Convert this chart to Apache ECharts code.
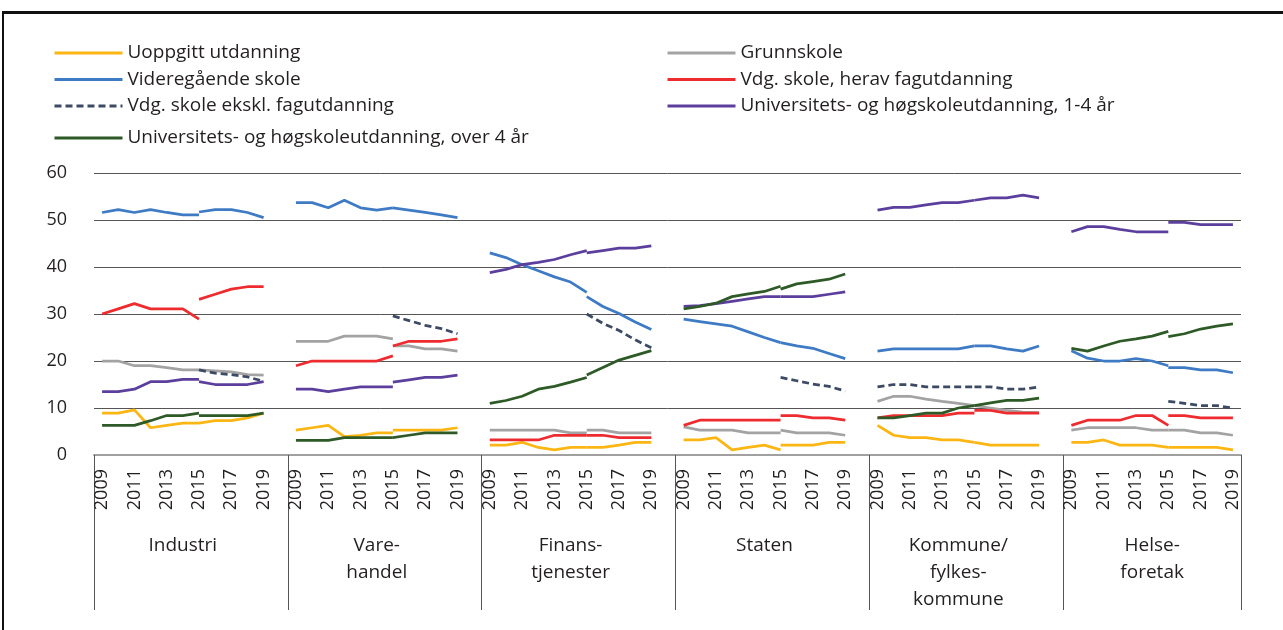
<!DOCTYPE html>
<html>
<head>
<meta charset="utf-8">
<script src="https://cdn.jsdelivr.net/npm/echarts@6/dist/echarts.min.js"></script>
<style>
  html, body { margin: 0; padding: 0; background: #fff; }
  #chart { width: 1283px; height: 630px; }
  .frame {
    position: absolute; left: 2px; top: 11px; right: 0; bottom: 0;
    border-top: 3px solid #111; border-left: 2px solid #111;
    pointer-events: none;
  }
</style>
</head>
<body>
<div id="chart"></div>
<div class="frame"></div>
<script>
// sektorer og år
const sectors = ['Industri', 'Vare-\nhandel', 'Finans-\ntjenester', 'Staten', 'Kommune/\nfylkes-\nkommune', 'Helse-\nforetak'];
const years = ['2009', '2010', '2011', '2012', '2013', '2014', '2015', '2016', '2017', '2018', '2019'];
const yTicks = [0, 10, 20, 30, 40, 50, 60];

// 2009-2015 (gammel serie) og 2015-2019 (ny serie), en rad per sektor
const uoppgittOld = [
  [8.9, 8.9, 9.6, 5.8, 6.3, 6.8, 6.8],
  [5.3, 5.8, 6.3, 3.9, 4.2, 4.7, 4.7],
  [2.1, 2.1, 2.7, 1.6, 1.1, 1.6, 1.6],
  [3.2, 3.2, 3.7, 1.1, 1.6, 2.1, 1.1],
  [6.3, 4.2, 3.7, 3.7, 3.2, 3.2, 2.7],
  [2.7, 2.7, 3.2, 2.1, 2.1, 2.1, 1.6]
];
const uoppgittNew = [
  [6.8, 7.3, 7.3, 7.9, 8.9],
  [5.3, 5.3, 5.3, 5.3, 5.8],
  [1.6, 1.6, 2.1, 2.7, 2.7],
  [2.1, 2.1, 2.1, 2.7, 2.7],
  [2.7, 2.1, 2.1, 2.1, 2.1],
  [1.6, 1.6, 1.6, 1.6, 1.1]
];
const grunnskoleOld = [
  [20.0, 20.0, 19.0, 19.0, 18.6, 18.1, 18.1],
  [24.2, 24.2, 24.2, 25.3, 25.3, 25.3, 24.7],
  [5.3, 5.3, 5.3, 5.3, 5.3, 4.7, 4.7],
  [6.0, 5.3, 5.3, 5.3, 4.7, 4.7, 4.7],
  [11.4, 12.5, 12.5, 11.9, 11.4, 11.0, 10.5],
  [5.3, 5.8, 5.8, 5.8, 5.8, 5.3, 5.3]
];
const grunnskoleNew = [
  [18.1, 17.9, 17.7, 17.1, 17.0],
  [23.2, 23.2, 22.6, 22.6, 22.1],
  [5.3, 5.3, 4.7, 4.7, 4.7],
  [5.3, 4.7, 4.7, 4.7, 4.2],
  [10.5, 10.0, 9.5, 9.1, 9.0],
  [5.3, 5.3, 4.7, 4.7, 4.2]
];
const vgsOld = [
  [51.6, 52.2, 51.6, 52.2, 51.6, 51.1, 51.1],
  [53.7, 53.7, 52.6, 54.2, 52.6, 52.1, 52.6],
  [43.0, 42.0, 40.5, 39.2, 37.9, 36.8, 34.6],
  [28.9, 28.4, 27.9, 27.4, 26.2, 25.0, 23.9],
  [22.1, 22.6, 22.6, 22.6, 22.6, 22.6, 23.2],
  [22.2, 20.6, 20.0, 20.0, 20.5, 20.0, 19.0]
];
const vgsNew = [
  [51.7, 52.2, 52.2, 51.6, 50.5],
  [52.6, 52.1, 51.6, 51.1, 50.5],
  [33.7, 31.6, 30.1, 28.3, 26.7],
  [23.9, 23.2, 22.7, 21.6, 20.5],
  [23.2, 23.2, 22.6, 22.1, 23.2],
  [18.6, 18.6, 18.1, 18.1, 17.5]
];
const fagOld = [
  [30.0, 31.1, 32.2, 31.1, 31.1, 31.1, 28.9],
  [19.0, 20.0, 20.0, 20.0, 20.0, 20.0, 21.1],
  [3.2, 3.2, 3.2, 3.2, 4.2, 4.2, 4.2],
  [6.3, 7.4, 7.4, 7.4, 7.4, 7.4, 7.4],
  [7.9, 8.4, 8.4, 8.4, 8.4, 8.9, 8.9],
  [6.3, 7.4, 7.4, 7.4, 8.4, 8.4, 6.3]
];
const fagNew = [
  [33.1, 34.2, 35.3, 35.8, 35.8],
  [23.2, 24.2, 24.2, 24.2, 24.7],
  [4.2, 4.2, 3.7, 3.7, 3.7],
  [8.4, 8.4, 7.9, 7.9, 7.4],
  [9.5, 9.5, 8.9, 8.9, 8.9],
  [8.4, 8.4, 7.9, 7.9, 7.9]
];
const eksklOld = [
  [],
  [],
  [],
  [],
  [14.5, 15.0, 15.0, 14.5, 14.5, 14.5, 14.5],
  []
];
const eksklNew = [
  [18.1, 17.4, 17.1, 16.6, 15.7],
  [29.6, 28.6, 27.6, 26.9, 25.8],
  [30.0, 28.0, 26.5, 24.5, 22.8],
  [16.5, 15.8, 15.1, 14.6, 13.6],
  [14.5, 14.5, 14.0, 14.0, 14.5],
  [11.4, 11.0, 10.5, 10.5, 10.0]
];
const uni14Old = [
  [13.5, 13.5, 14.0, 15.6, 15.6, 16.1, 16.1],
  [14.0, 14.0, 13.5, 14.0, 14.5, 14.5, 14.5],
  [38.8, 39.5, 40.5, 41.0, 41.6, 42.6, 43.5],
  [31.6, 31.8, 32.2, 32.7, 33.2, 33.7, 33.7],
  [52.1, 52.7, 52.7, 53.2, 53.7, 53.7, 54.2],
  [47.5, 48.6, 48.6, 48.0, 47.5, 47.5, 47.5]
];
const uni14New = [
  [15.6, 15.0, 15.0, 15.0, 15.6],
  [15.5, 16.0, 16.5, 16.5, 17.0],
  [43.0, 43.5, 44.0, 44.0, 44.5],
  [33.7, 33.7, 33.7, 34.2, 34.7],
  [54.2, 54.7, 54.7, 55.3, 54.7],
  [49.5, 49.5, 49.0, 49.0, 49.0]
];
const uni4Old = [
  [6.3, 6.3, 6.3, 7.3, 8.4, 8.4, 8.9],
  [3.1, 3.1, 3.1, 3.7, 3.7, 3.7, 3.7],
  [11.0, 11.6, 12.5, 14.0, 14.6, 15.5, 16.5],
  [31.1, 31.6, 32.3, 33.7, 34.3, 34.8, 35.9],
  [7.9, 7.9, 8.4, 8.9, 8.9, 10.0, 10.5],
  [22.7, 22.1, 23.2, 24.2, 24.7, 25.3, 26.3]
];
const uni4New = [
  [8.4, 8.4, 8.4, 8.4, 8.9],
  [3.7, 4.2, 4.7, 4.7, 4.7],
  [17.0, 18.6, 20.2, 21.2, 22.2],
  [35.3, 36.4, 36.9, 37.4, 38.5],
  [10.5, 11.1, 11.6, 11.6, 12.1],
  [25.2, 25.8, 26.8, 27.4, 27.9]
];

const names = [
  'Uoppgitt utdanning',
  'Grunnskole',
  'Videregående skole',
  'Vdg. skole, herav fagutdanning',
  'Vdg. skole ekskl. fagutdanning',
  'Universitets- og høgskoleutdanning, 1-4 år',
  'Universitets- og høgskoleutdanning, over 4 år'
];
const colors = ['#fbb614', '#a3a3a3', '#3e7bc4', '#ee2b2f', '#3c4a63', '#5c3f9c', '#2d5a26'];

const font = 'Open Sans';
const textColor = '#231f20';

// kategoriakse: 11 år per sektor + en tom kategori mellom sektorene
const perSector = years.length + 1;
const categories = [];
sectors.forEach(function (s, si) {
  years.forEach(function (y) { categories.push(si + '|' + y); });
  if (si < sectors.length - 1) categories.push(si + '|');
});

function spread(parts, offset) {
  const out = categories.map(function () { return null; });
  parts.forEach(function (vals, si) {
    vals.forEach(function (v, i) { out[si * perSector + offset + i] = v; });
  });
  return out;
}

const pairs = [
  [uoppgittOld, uoppgittNew],
  [grunnskoleOld, grunnskoleNew],
  [vgsOld, vgsNew],
  [fagOld, fagNew],
  [eksklOld, eksklNew],
  [uni14Old, uni14New],
  [uni4Old, uni4New]
];

const series = [];
pairs.forEach(function (p, k) {
  [spread(p[0], 0), spread(p[1], 6)].forEach(function (data) {
    series.push({
      type: 'line',
      name: names[k],
      data: data,
      symbol: 'circle',
      showSymbol: false,
      connectNulls: false,
      silent: true,
      color: colors[k],
      lineStyle: { width: 2.75, color: colors[k], type: k === 4 ? [7, 4] : 'solid' },
      z: 2 + k
    });
  });
});

function legend(items, left, top) {
  return {
    orient: 'vertical',
    left: left,
    top: top,
    data: items,
    itemWidth: 68,
    itemHeight: 14,
    itemGap: 6.5,
    selectedMode: false,
    itemStyle: { opacity: 0 },
    lineStyle: { width: 3 },
    textStyle: { fontFamily: font, fontSize: 19, lineHeight: 20, color: textColor }
  };
}

const mychart = echarts.init(document.getElementById('chart'));
const option = {
  animation: false,
  backgroundColor: '#fff',
  legend: [
    legend([names[0], names[2], names[4]], 48, 38),
    legend([names[6]], 48, 123),
    legend([names[1], names[3], names[5]], 661, 38)
  ],
  grid: { left: 94, right: 42, top: 173, bottom: 175 },
  xAxis: [{
    type: 'category',
    data: categories,
    boundaryGap: true,
    axisLine: { lineStyle: { color: '#a0a0a0', width: 2 } },
    axisTick: { show: false },
    axisLabel: {
      rotate: 90,
      margin: 14,
      interval: function (i, v) {
        const y = v.split('|')[1];
        return y !== '' && (+y) % 2 === 1;
      },
      formatter: function (v) { return v.split('|')[1]; },
      fontFamily: font,
      fontSize: 18,
      color: textColor
    }
  }, {
    type: 'category',
    data: categories,
    position: 'bottom',
    boundaryGap: true,
    axisLine: { show: false },
    axisTick: {
      show: true,
      length: 155,
      interval: function (i) { return i % perSector === 0; },
      lineStyle: { color: '#555', width: 1 }
    },
    axisLabel: {
      margin: 77,
      interval: function (i) { return i % perSector === 5; },
      formatter: function (v) { return sectors[+v.split('|')[0]]; },
      fontFamily: font,
      fontSize: 19,
      lineHeight: 27,
      color: textColor,
      align: 'center'
    }
  }],
  yAxis: {
    type: 'value',
    min: yTicks[0],
    max: yTicks[yTicks.length - 1],
    interval: 10,
    axisLine: { show: false },
    axisTick: { show: false },
    splitLine: { lineStyle: { color: '#555', width: 1 } },
    axisLabel: { margin: 27, fontFamily: font, fontSize: 18, color: textColor }
  },
  series: series
};
mychart.setOption(option, true);
</script>
</body>
</html>
